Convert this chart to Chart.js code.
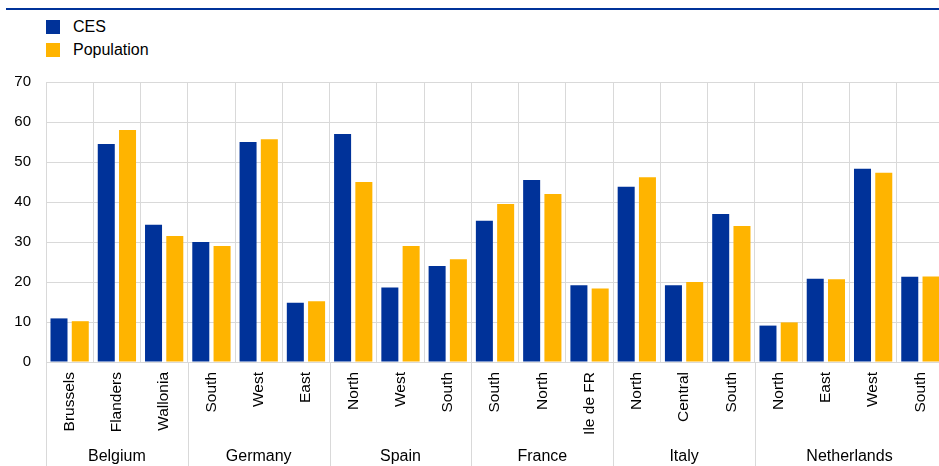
<!DOCTYPE html>
<html>
<head>
<meta charset="utf-8">
<script src="https://cdn.jsdelivr.net/npm/chart.js@4"></script>
<style>
    body { margin: 0; overflow: hidden; background: #fff; font-family: "Liberation Sans", Arial, sans-serif; }
    .topline { position: absolute; left: 6px; top: 8px; width: 940px; height: 2px; background: #003299; }
    .legend-item { position: absolute; left: 46px; height: 14px; font-size: 16px; color: #000; }
    .legend-item span { position: absolute; left: 0; top: 0; width: 14px; height: 14px; }
    .legend-item div { position: absolute; left: 27px; top: -2px; line-height: 18px; white-space: nowrap; }
    #wrap { position: absolute; left: 0; top: 0; width: 949px; height: 466px; }
</style>
</head>
<body>
<div class="topline"></div>
<div class="legend-item" style="top:20px"><span style="background:#003299"></span><div>CES</div></div>
<div class="legend-item" style="top:43px"><span style="background:#ffb400"></span><div>Population</div></div>
<div id="wrap"><canvas id="chart"></canvas></div>
<script>
const regions = ['Brussels', 'Flanders', 'Wallonia', 'South', 'West', 'East', 'North', 'West', 'South',
    'South', 'North', 'Ile de FR', 'North', 'Central', 'South', 'North', 'East', 'West', 'South'];
const countries = ['Belgium', 'Germany', 'Spain', 'France', 'Italy', 'Netherlands'];
const groupSizes = [3, 3, 3, 3, 3, 4];
const cesValues = [10.9, 54.5, 34.3, 30.0, 55.0, 14.8, 57.0, 18.6, 24.0, 35.3, 45.5, 19.2, 43.8, 19.2, 37.0, 9.1, 20.8, 48.3, 21.3];
const populationValues = [10.2, 58.0, 31.5, 29.0, 55.7, 15.2, 45.0, 29.0, 25.7, 39.5, 42.0, 18.4, 46.2, 20.0, 34.0, 9.9, 20.7, 47.3, 21.4];
const yTicks = [0, 10, 20, 30, 40, 50, 60, 70];

const gridColor = '#d9d9d9';
const fontFamily = '"Liberation Sans", Arial, sans-serif';

const groupPlugin = {
    id: 'groups',
    afterDraw(chart) {
        const ctx = chart.ctx;
        const x = chart.scales.x;
        const area = chart.chartArea;
        const step = x.getPixelForValue(1) - x.getPixelForValue(0);
        let start = 0;
        ctx.save();
        ctx.strokeStyle = gridColor;
        ctx.lineWidth = 1;
        ctx.fillStyle = '#000';
        ctx.font = '16px ' + fontFamily;
        ctx.textAlign = 'center';
        ctx.textBaseline = 'middle';
        countries.forEach((name, i) => {
            const left = x.getPixelForValue(start) - step / 2;
            const right = x.getPixelForValue(start + groupSizes[i] - 1) + step / 2;
            [left, right].forEach(px => {
                const lx = Math.round(px) + 0.5;
                ctx.beginPath();
                ctx.moveTo(lx, area.bottom);
                ctx.lineTo(lx, chart.height);
                ctx.stroke();
            });
            ctx.fillText(name, (left + right) / 2, 457);
            start += groupSizes[i];
        });
        ctx.restore();
    }
};

new Chart(document.getElementById('chart'), {
    type: 'bar',
    data: {
        labels: regions,
        datasets: [
            { label: 'CES', data: cesValues, backgroundColor: '#003299', categoryPercentage: 0.9, barPercentage: 0.8 },
            { label: 'Population', data: populationValues, backgroundColor: '#ffb400', categoryPercentage: 0.9, barPercentage: 0.8 }
        ]
    },
    options: {
        responsive: true,
        maintainAspectRatio: false,
        animation: false,
        layout: { padding: { top: 82, left: 0, right: 0, bottom: 0 } },
        plugins: { legend: { display: false }, tooltip: { enabled: false } },
        scales: {
            x: {
                grid: { color: gridColor, drawTicks: false, offset: true },
                border: { color: gridColor },
                ticks: {
                    autoSkip: false,
                    minRotation: 90,
                    maxRotation: 90,
                    padding: 10,
                    color: '#000',
                    font: { family: fontFamily, size: 15.5 }
                },
                afterFit: s => { s.height = 104; }
            },
            y: {
                min: 0,
                max: 70,
                afterBuildTicks: s => { s.ticks = yTicks.map(v => ({ value: v })); },
                grid: { color: gridColor, drawTicks: false },
                border: { display: false },
                ticks: {
                    padding: 15,
                    color: '#000',
                    font: { family: fontFamily, size: 15 }
                },
                afterFit: s => { s.width = 46; }
            }
        }
    },
    plugins: [groupPlugin]
});
</script>
</body>
</html>
